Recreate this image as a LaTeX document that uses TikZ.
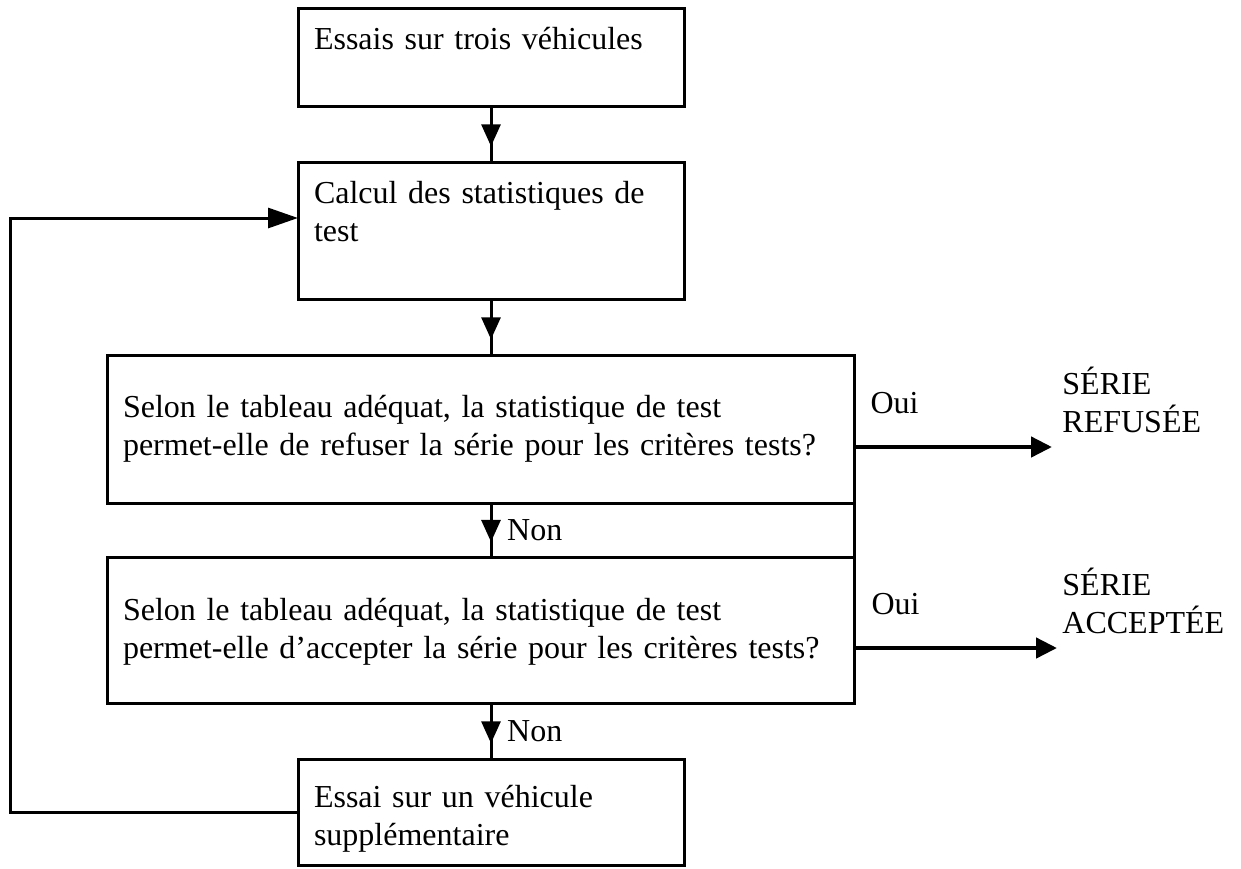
\documentclass[tikz,border=0pt]{standalone}
\usepackage{fontspec}
\setmainfont{Liberation Serif}
\usetikzlibrary{arrows.meta,decorations.markings}

\tikzset{
  box/.style={draw, line width=1.5pt, align=left, inner xsep=8pt, inner ysep=0pt, outer sep=0pt},
  flow/.style={line width=1.5pt, postaction={decorate},
    decoration={markings, mark=at position 0.72 with {\arrow{Triangle[length=11pt,width=9.5pt]}}}},
  outflow/.style={line width=2.25pt, -{Triangle[length=10.5pt,width=10pt]}},
  back/.style={line width=1.5pt, -{Triangle[length=15pt,width=10pt]}}
}

\begin{document}
\begin{tikzpicture}[x=0.5pt, y=-0.5pt, font=\fontsize{16}{19}\selectfont]
  \useasboundingbox (0,0) rectangle (1241,868);
  % Tell it where the boxes are
  \node (essais) [box, text width=177pt, minimum height=49pt] at (491,57) {Essais sur trois véhicules\\ \mbox{}};
  \node (calcul) [box, text width=177pt, minimum height=68.5pt] at (491,230.5) {Calcul des statistiques de\\ test\\ \mbox{}};
  \node (refuser) [box, text width=357.5pt, minimum height=74pt] at (480.5,429) {Selon le tableau adéquat, la statistique de test\\ permet-elle de refuser la série pour les critères tests?};
  \node (accepter) [box, text width=357.5pt, minimum height=73pt] at (480.5,630) {\rule{0pt}{13pt}Selon le tableau adéquat, la statistique de test\\ permet-elle d’accepter la série pour les critères tests?};
  \node (essai) [box, text width=177pt, minimum height=53pt] at (491,812) {\rule{0pt}{18pt}Essai sur un véhicule\\ supplémentaire};
  \node (refusee) [anchor=west, align=left, inner sep=0pt] at (1062,400) {SÉRIE\\REFUSÉE};
  \node (acceptee) [anchor=west, align=left, inner sep=0pt] at (1062,601) {SÉRIE\\ACCEPTÉE};
  \coordinate (finR) at (1052,447);
  \coordinate (finA) at (1057,648);
  \coordinate (coin) at (10,218);
  % Tell it what arrows to draw
  \draw[flow] (essais) -- (calcul);
  \draw[flow] (calcul) -- (calcul.south |- refuser.north);
  \draw[flow] (calcul.south |- refuser.south) -- node[right, xshift=4pt] {Non} (calcul.south |- accepter.north);
  \draw[flow] (calcul.south |- accepter.south) -- node[right, xshift=4pt] {Non} (essai);
  \draw[line width=1.5pt] (refuser.south east) -- (accepter.north east);
  \draw[outflow] (refuser.east |- finR) -- node[pos=0.205, yshift=22pt] {Oui} (finR);
  \draw[outflow] (accepter.east |- finA) -- node[pos=0.205, yshift=22pt] {Oui} (finA);
  \draw[back] (essai.west) -| (coin) -- (calcul.west |- coin);
\end{tikzpicture}
\end{document}
